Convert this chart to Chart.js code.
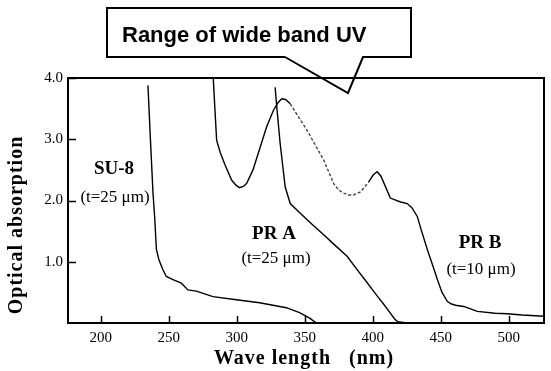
<!DOCTYPE html>
<html><head><meta charset="utf-8">
<script src="https://cdn.jsdelivr.net/npm/chart.js@4"></script>
<style>html,body{margin:0;padding:0;background:#fff}#wrap{width:551px;height:371px}</style>
</head><body><div id="wrap"><canvas id="c" width="551" height="371"></canvas></div>
<script>
// ---- data (wavelength in nm, optical absorption) ----
const su8X = [234.8, 236.6, 238.5, 239.7, 241.0, 242.9, 245.8, 248.3, 253.2, 259.3, 264.2, 270.4, 282.6, 299.8, 316.9, 336.5, 346.3, 353.7, 358.6];
const su8Y = [3.88, 3.00, 2.12, 1.74, 1.20, 1.03, 0.87, 0.76, 0.71, 0.65, 0.54, 0.52, 0.43, 0.38, 0.33, 0.25, 0.17, 0.08, 0.00];

const prAX = [328.3, 329.5, 332.0, 335.7, 339.4, 346.8, 355.0, 364.0, 370.8, 381.2, 389.0, 395.6, 403.0, 408.0, 413.0, 416.0, 418.5, 425.0];
const prAY = [3.85, 3.53, 2.93, 2.22, 1.95, 1.79, 1.62, 1.44, 1.30, 1.09, 0.86, 0.67, 0.45, 0.31, 0.16, 0.07, 0.02, 0.00];

const prBX = [282.8, 284.0, 285.3, 288.0, 291.5, 296.4, 299.5, 302.0, 305.0, 307.4, 312.0, 317.3, 322.0, 327.0, 330.5, 333.2, 336.0, 339.4, 345.0, 351.7, 358.0, 364.0, 371.3, 375.0, 378.7, 382.5, 386.0, 391.0, 397.0, 400.5, 403.3, 406.0, 408.0, 413.0, 420.0, 425.4, 429.0, 432.8, 436.0, 440.2, 444.0, 447.6, 451.0, 455.0, 458.0, 461.0, 467.0, 477.0, 490.0, 499.0, 510.0, 526.0];
const prBY = [4.00, 3.50, 2.98, 2.78, 2.58, 2.33, 2.25, 2.21, 2.23, 2.28, 2.50, 2.87, 3.20, 3.47, 3.60, 3.66, 3.65, 3.58, 3.38, 3.15, 2.90, 2.66, 2.28, 2.17, 2.12, 2.09, 2.09, 2.14, 2.30, 2.42, 2.47, 2.40, 2.30, 2.04, 1.98, 1.95, 1.88, 1.74, 1.50, 1.20, 0.95, 0.71, 0.50, 0.35, 0.31, 0.29, 0.27, 0.19, 0.16, 0.15, 0.13, 0.11];

const seriesNames = ['SU-8', 'PR A', 'PR B'];
const xTickValues = [200, 250, 300, 350, 400, 450, 500];
const xTickLabels = ['200', '250', '300', '350', '400', '450', '500'];
const yTickValues = [1, 2, 3, 4];
const yTickLabels = ['1.0', '2.0', '3.0', '4.0'];

const pts = (xs, ys) => xs.map((x, i) => ({x: x, y: ys[i]}));

const SERIF = '"Liberation Serif", "Times New Roman", serif';
const SANS = '"Liberation Sans", Arial, sans-serif';

const decorPlugin = {
  id: 'decor',
  afterDraw(chart) {
    const ctx = chart.ctx;
    const a = chart.chartArea;
    const xs = chart.scales.x, ys = chart.scales.y;
    ctx.save();
    ctx.strokeStyle = '#000';
    ctx.fillStyle = '#000';
    // frame
    ctx.lineWidth = 2;
    ctx.strokeRect(a.left, a.top, a.right - a.left, a.bottom - a.top);
    // inward ticks
    ctx.lineWidth = 1.5;
    ctx.beginPath();
    xs.ticks.forEach(t => {
      const px = Math.round(xs.getPixelForValue(t.value)) + 0.5;
      ctx.moveTo(px, a.bottom); ctx.lineTo(px, a.bottom - 7);
    });
    ys.ticks.forEach(t => {
      const py = Math.round(ys.getPixelForValue(t.value)) + 0.5;
      ctx.moveTo(a.left, py); ctx.lineTo(a.left + 8, py);
    });
    ctx.stroke();

    // axis titles
    ctx.textAlign = 'center';
    ctx.textBaseline = 'middle';
    ctx.font = 'bold 20px ' + SERIF;
    ctx.letterSpacing = '1px';
    ctx.fillText('Wave length   (nm)', 304, 359);
    ctx.save();
    ctx.translate(17, 225);
    ctx.rotate(-Math.PI / 2);
    ctx.fillText('Optical absorption', 0, 0);
    ctx.restore();
    ctx.letterSpacing = '0px';

    // series annotations
    ctx.font = 'bold 19px ' + SERIF;
    ctx.fillText(seriesNames[0], 114, 169);
    ctx.fillText(seriesNames[1], 274, 234);
    ctx.fillText(seriesNames[2], 480, 243);
    ctx.font = '17px ' + SERIF;
    ctx.fillText('(t=25 \u03BCm)', 115, 198);
    ctx.fillText('(t=25 \u03BCm)', 276, 259);
    ctx.fillText('(t=10 \u03BCm)', 481, 270);

    // callout
    ctx.lineWidth = 2;
    ctx.beginPath();
    ctx.moveTo(285, 57);
    ctx.lineTo(107, 57);
    ctx.lineTo(107, 8);
    ctx.lineTo(411, 8);
    ctx.lineTo(411, 57);
    ctx.lineTo(363, 57);
    ctx.lineTo(348, 93);
    ctx.lineTo(285, 57);
    ctx.stroke();
    ctx.font = 'bold 22px ' + SANS;
    ctx.textAlign = 'left';
    ctx.textBaseline = 'alphabetic';
    ctx.fillText('Range of wide band UV', 122, 42);
    ctx.restore();
  }
};

const lineStyle = {
  borderColor: '#000',
  borderWidth: 1.4,
  pointRadius: 0,
  fill: false,
  tension: 0
};

new Chart(document.getElementById('c'), {
  type: 'line',
  data: {
    datasets: [
      Object.assign({label: seriesNames[0], data: pts(su8X, su8Y)}, lineStyle),
      Object.assign({label: seriesNames[1], data: pts(prAX, prAY)}, lineStyle),
      Object.assign({label: seriesNames[2], data: pts(prBX, prBY),
        segment: {
          borderDash: c => (c.p0.parsed.x >= 339 && c.p1.parsed.x <= 398) ? [3, 2] : undefined,
          borderColor: c => (c.p0.parsed.x >= 339 && c.p1.parsed.x <= 398) ? '#444' : undefined
        }}, lineStyle)
    ]
  },
  options: {
    responsive: false,
    animation: false,
    devicePixelRatio: 1,
    layout: {padding: {top: 78, right: 7, left: 0, bottom: 0}},
    plugins: {legend: {display: false}, tooltip: {enabled: false}, title: {display: false}},
    scales: {
      x: {
        type: 'linear', min: 176, max: 526,
        grid: {display: false, drawTicks: false},
        border: {display: false},
        afterBuildTicks: s => { s.ticks = xTickValues.map(v => ({value: v})); },
        ticks: {
          autoSkip: false, maxRotation: 0, padding: 6, color: '#000',
          font: {family: SERIF, size: 15},
          callback: v => xTickLabels[xTickValues.indexOf(v)]
        },
        afterFit: s => { s.height = 48; }
      },
      y: {
        type: 'linear', min: 0, max: 4,
        grid: {display: false, drawTicks: false},
        border: {display: false},
        afterBuildTicks: s => { s.ticks = yTickValues.map(v => ({value: v})); },
        ticks: {
          autoSkip: false, padding: 5, color: '#000',
          font: {family: SERIF, size: 15},
          callback: v => yTickLabels[yTickValues.indexOf(v)]
        },
        afterFit: s => { s.width = 68; }
      }
    }
  },
  plugins: [decorPlugin]
});
</script>
</body></html>
